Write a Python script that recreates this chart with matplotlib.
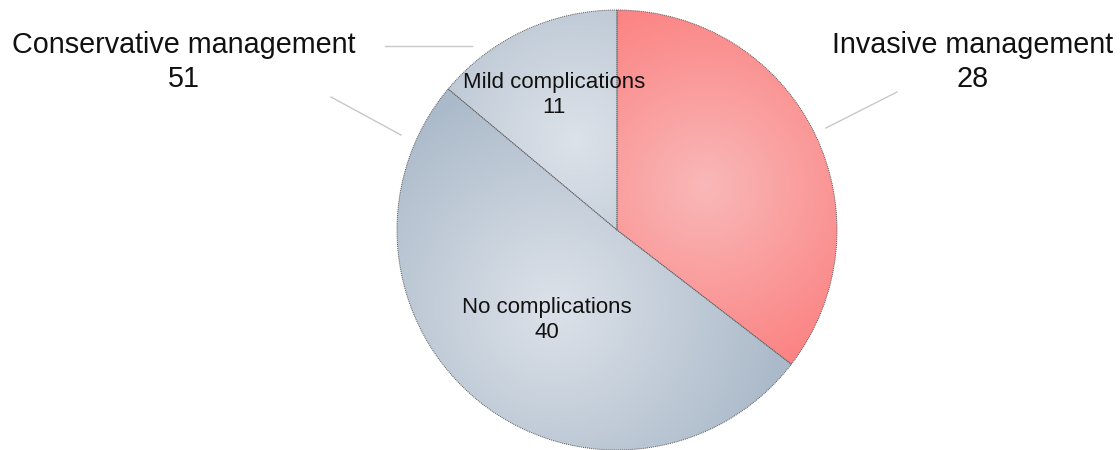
import numpy as np
import matplotlib
matplotlib.use("Agg")
import matplotlib.pyplot as plt
from matplotlib.colors import to_rgb

plt.rcParams['font.family'] = ['Liberation Sans', 'DejaVu Sans']

# Slices, clockwise from 12 o'clock
slice_names = ["Invasive management", "No complications", "Mild complications"]
slice_values = [28, 40, 11]
group_names = ["Conservative management", "Invasive management"]
group_totals = [51, 28]

edge_colors = ["#fc7979", "#abbaca", "#abbaca"]
center_colors = ["#f9b8b8", "#dde2e9", "#dde2e9"]

W, H = 1120, 450
fig = plt.figure(figsize=(W / 100, H / 100), dpi=100)
ax = fig.add_axes([0, 0, 1, 1])

cx, cy, R = 617, H - 230, 220
wedges, _ = ax.pie(slice_values, startangle=90, counterclock=False,
                   center=(cx, cy), radius=R,
                   colors=edge_colors,
                   wedgeprops=dict(edgecolor="#5a5a5a", linewidth=0.7,
                                   linestyle=(0, (1, 1))))

ax.set_xlim(0, W)
ax.set_ylim(0, H)
ax.set_aspect("equal")
ax.axis("off")

# radial shading inside each slice
xs = np.linspace(cx - R, cx + R, 500)
ys = np.linspace(cy - R, cy + R, 500)
XX, YY = np.meshgrid(xs, ys)
for w, c0, c1 in zip(wedges, center_colors, edge_colors):
    mid = np.deg2rad((w.theta1 + w.theta2) / 2)
    gx = cx + 0.45 * R * np.cos(mid)
    gy = cy + 0.45 * R * np.sin(mid)
    d = np.hypot(XX - gx, YY - gy) / (1.05 * R)
    t = np.clip(d, 0, 1)[..., None]
    img = np.array(to_rgb(c0)) * (1 - t) + np.array(to_rgb(c1)) * t
    im = ax.imshow(img, extent=(cx - R, cx + R, cy - R, cy + R),
                   origin="lower", zorder=1, interpolation="bilinear")
    im.set_clip_path(w)
    w.set_facecolor("none")
    w.set_zorder(2)

# labels inside the grey slices
inner_pos = {"No complications": (547, 320), "Mild complications": (554, 95)}
for name, val in zip(slice_names, slice_values):
    if name in inner_pos:
        x, y = inner_pos[name]
        ax.text(x, H - y, f"{name}\n{val}", ha="center", va="center",
                fontsize=16, color="#111111", linespacing=1.2, zorder=3)

# outer group labels with leader lines
ax.text(184, H - 62, f"{group_names[0]}\n{group_totals[0]}", ha="center",
        va="center", fontsize=20.7, color="#111111", linespacing=1.25)
ax.text(973, H - 62, f"{group_names[1]}\n{group_totals[1]}", ha="center",
        va="center", fontsize=20.7, color="#111111", linespacing=1.25)

lc = "#c8c8c8"
ax.plot([385, 472], [H - 46, H - 46], color=lc, lw=1)
ax.plot([331, 401], [H - 97, H - 135], color=lc, lw=1)
ax.plot([826, 897], [H - 128, H - 92], color=lc, lw=1)

fig.savefig("out.png", dpi=100, facecolor="white")
